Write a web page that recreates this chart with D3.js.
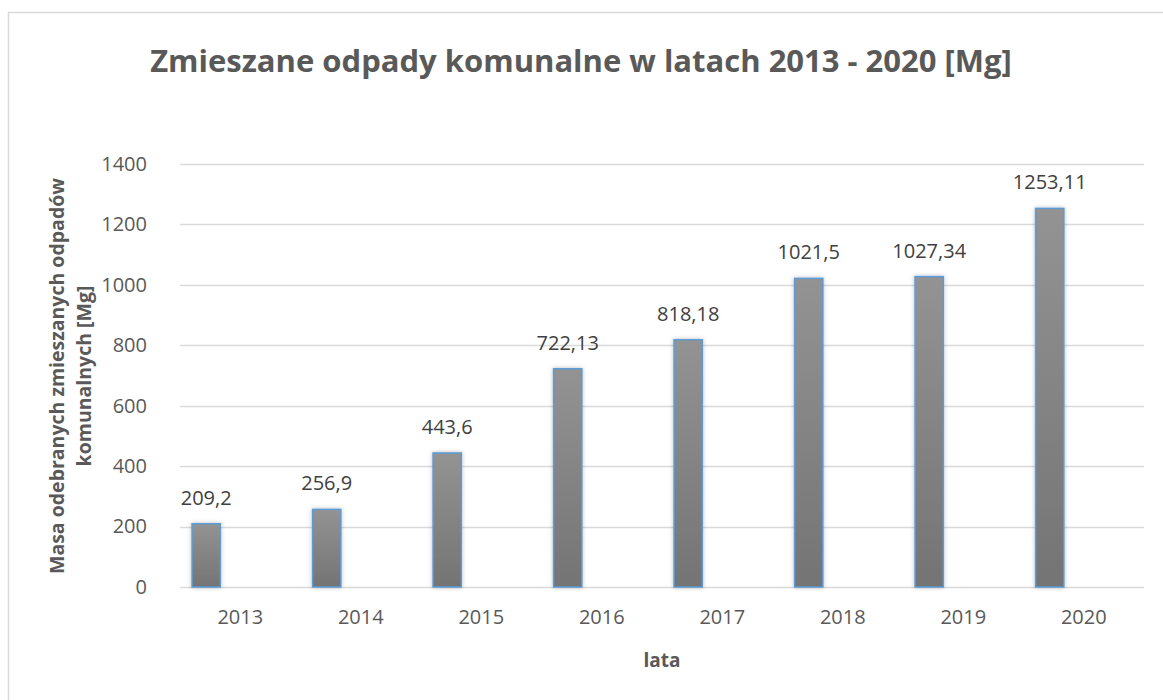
<!DOCTYPE html>
<html>
<head>
<meta charset="utf-8">
<script src="https://cdn.jsdelivr.net/npm/d3@7"></script>
<style>
  body { margin: 0; background: #fff; }
  text { font-family: "Open Sans", sans-serif; }
</style>
</head>
<body>
<svg id="chart"></svg>
<script>
const years = ["2013", "2014", "2015", "2016", "2017", "2018", "2019", "2020"];
const values = [209.2, 256.9, 443.6, 722.13, 818.18, 1021.5, 1027.34, 1253.11];
const labels = ["209,2", "256,9", "443,6", "722,13", "818,18", "1021,5", "1027,34", "1253,11"];
const yTicks = [0, 200, 400, 600, 800, 1000, 1200, 1400];

const width = 1163;
const height = 700;
const margin = { top: 164, right: 19, bottom: 113, left: 180 };

const svg = d3.select("#chart")
              .attr("width", width)
              .attr("height", height);

// gradient for bars
const defs = svg.append("defs");
const grad = defs.append("linearGradient")
                 .attr("id", "barGrad")
                 .attr("x1", 0).attr("y1", 0).attr("x2", 0).attr("y2", 1);
grad.append("stop").attr("offset", "0%").attr("stop-color", "#939393");
grad.append("stop").attr("offset", "100%").attr("stop-color", "#747474");

const shadow = defs.append("filter").attr("id", "shadow")
                   .attr("x", "-30%").attr("y", "-10%").attr("width", "160%").attr("height", "120%");
shadow.append("feDropShadow").attr("dx", 0).attr("dy", 0).attr("stdDeviation", 2)
      .attr("flood-color", "#000").attr("flood-opacity", 0.25);

// outer chart border (only top & left visible)
svg.append("rect")
   .attr("x", 8.5).attr("y", 12.5)
   .attr("width", width + 20).attr("height", height + 20)
   .attr("fill", "none")
   .attr("stroke", "#d9d9d9")
   .attr("stroke-width", 1.5);

const xScale = d3.scaleBand()
                 .domain(years)
                 .range([margin.left, width - margin.right]);

const yScale = d3.scaleLinear()
                 .domain([0, 1400])
                 .range([height - margin.bottom, margin.top]);

// gridlines
svg.append("g")
   .selectAll("line")
   .data(yTicks)
   .enter()
   .append("line")
   .attr("x1", margin.left)
   .attr("x2", width - margin.right)
   .attr("y1", d => Math.round(yScale(d)) + 0.5)
   .attr("y2", d => Math.round(yScale(d)) + 0.5)
   .attr("stroke", "#d9d9d9")
   .attr("stroke-width", 1.3);

const yAxis = d3.axisLeft(yScale).tickValues(yTicks).tickSize(0).tickPadding(33).tickFormat(d3.format("d"));
svg.append("g")
   .attr("transform", `translate(${margin.left}, 0)`)
   .call(yAxis)
   .call(g => g.select(".domain").remove())
   .selectAll("text")
   .attr("font-size", 20)
   .attr("fill", "#595959")
   .style("font-family", "'Open Sans', sans-serif");

const xAxis = d3.axisBottom(xScale).tickSize(0).tickPadding(23);
svg.append("g")
   .attr("transform", `translate(0, ${height - margin.bottom})`)
   .call(xAxis)
   .call(g => g.select(".domain").remove())
   .selectAll("text")
   .attr("font-size", 20)
   .attr("fill", "#595959")
   .style("font-family", "'Open Sans', sans-serif");

// bars sit at the left of each category (second series empty)
const bw = xScale.bandwidth();
const barX = d => xScale(d) + bw * 0.1;
const barW = bw * 0.235;

svg.append("g")
   .selectAll("rect")
   .data(years)
   .enter()
   .append("rect")
   .attr("x", d => barX(d))
   .attr("y", (d, i) => yScale(values[i]))
   .attr("width", barW)
   .attr("height", (d, i) => yScale(0) - yScale(values[i]))
   .attr("fill", "url(#barGrad)")
   .attr("stroke", "#5b9bd5")
   .attr("stroke-width", 1.5)
   .attr("filter", "url(#shadow)");

svg.append("g")
   .selectAll("text")
   .data(years)
   .enter()
   .append("text")
   .attr("x", d => barX(d) + barW / 2)
   .attr("y", (d, i) => yScale(values[i]) - 19)
   .attr("text-anchor", "middle")
   .attr("font-size", 20)
   .attr("fill", "#404040")
   .text((d, i) => labels[i]);

// title
svg.append("text")
   .attr("x", 581)
   .attr("y", 72)
   .attr("text-anchor", "middle")
   .attr("font-size", 31)
   .attr("font-weight", "bold")
   .attr("fill", "#595959")
   .text("Zmieszane odpady komunalne w latach 2013 - 2020 [Mg]");

// axis titles
const yTitle = svg.append("text")
   .attr("transform", "translate(0, 376) rotate(-90)")
   .attr("text-anchor", "middle")
   .attr("font-size", 19.5)
   .attr("font-weight", "bold")
   .attr("fill", "#595959");
yTitle.append("tspan").attr("x", 0).attr("y", 64).text("Masa odebranych zmieszanych odpadów");
yTitle.append("tspan").attr("x", 0).attr("y", 91).text("komunalnych [Mg]");

svg.append("text")
   .attr("x", 662)
   .attr("y", 667)
   .attr("text-anchor", "middle")
   .attr("font-size", 19)
   .attr("font-weight", "bold")
   .attr("fill", "#595959")
   .text("lata");
</script>
</body>
</html>
